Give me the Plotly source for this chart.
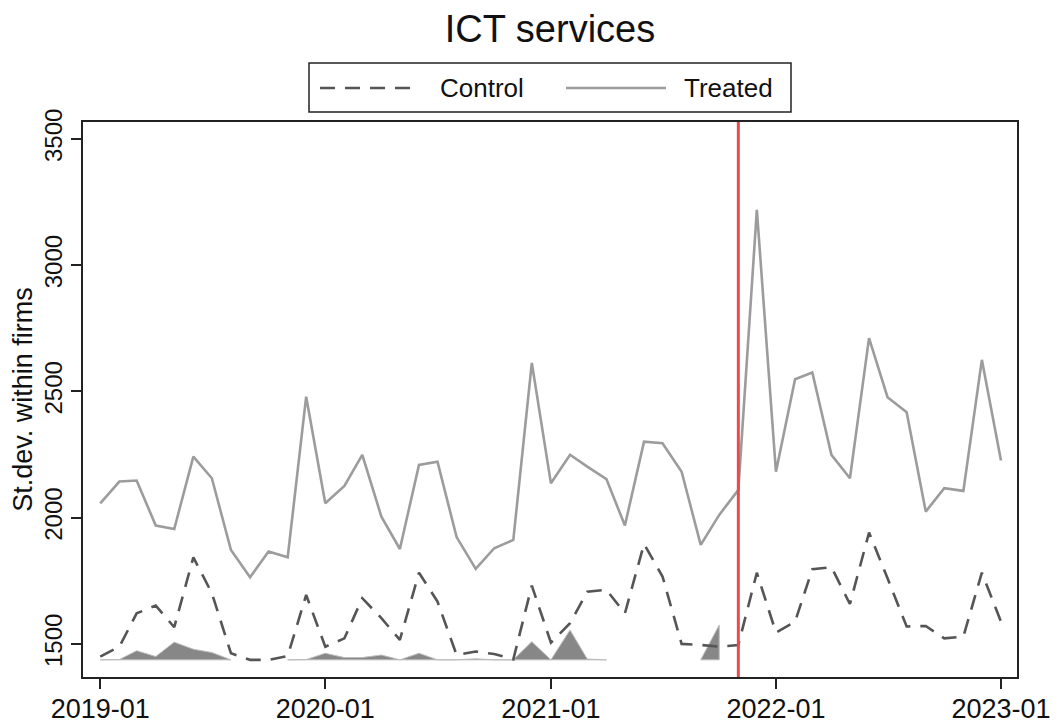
import plotly.graph_objects as go

months = [f"{2019 + k // 12}-{k % 12 + 1:02d}-01" for k in range(49)]

treated = [2057, 2143, 2147, 1969, 1955, 2242, 2156, 1872, 1764, 1866, 1843, 2479,
           2057, 2126, 2249, 2004, 1876, 2209, 2222, 1923, 1797, 1879, 1912, 2613,
           2136, 2249, 2202, 2153, 1969, 2301, 2295, 2182, 1892, 2011, 2110, 3219,
           2182, 2548, 2575, 2249, 2156, 2711, 2477, 2418, 2024, 2117, 2106, 2625,
           2226]

control = [1450, 1489, 1621, 1652, 1566, 1843, 1701, 1463, 1437, 1437, 1452, 1694,
           1489, 1522, 1681, 1602, 1516, 1782, 1668, 1456, 1470, 1460, 1439, 1731,
           1505, 1582, 1707, 1714, 1621, 1896, 1767, 1500, 1496, 1489, 1496, 1782,
           1545, 1588, 1796, 1804, 1658, 1941, 1760, 1569, 1571, 1522, 1529, 1782,
           1588]

shade_base = 1437
shade = [1437, 1438, 1473, 1450, 1507, 1479, 1466, 1437, None, None, 1437, 1438,
         1463, 1446, 1446, 1456, 1437, 1463, 1437, 1437, 1441, 1437, 1437, 1509,
         1437, 1555, 1440, 1438, None, None, None, None, 1437, 1575, None, None,
         None, None, None, None, None, None, None, None, None, None, None, None,
         None]

event_month = "2021-11-01"
y_ticks = [1500, 2000, 2500, 3000, 3500]
x_ticks = ["2019-01-01", "2020-01-01", "2021-01-01", "2022-01-01", "2023-01-01"]
x_ticktext = ["2019-01", "2020-01", "2021-01", "2022-01", "2023-01"]

FONT = "Arial, Liberation Sans, Helvetica, sans-serif"
CTRL_COLOR, TREAT_COLOR = "#555555", "#9c9c9c"
LW = 2.6
DASH = "15px,10px"

fig = go.Figure()

# shaded areas: one closed polygon per contiguous run of values
runs, cur = [], []
for m, v in zip(months, shade):
    if v is None:
        if cur:
            runs.append(cur)
        cur = []
    else:
        cur.append((m, v))
if cur:
    runs.append(cur)

for run in runs:
    xs = [m for m, _ in run] + [m for m, _ in reversed(run)]
    ys = [v for _, v in run] + [shade_base] * len(run)
    fig.add_trace(go.Scatter(x=xs, y=ys, mode="lines", fill="toself",
                             fillcolor="#878787", line=dict(color="#bdbdbd", width=1),
                             showlegend=False, hoverinfo="skip"))

fig.add_trace(go.Scatter(x=months, y=control, mode="lines", name="Control",
                         line=dict(color=CTRL_COLOR, width=LW, dash=DASH),
                         showlegend=False))
fig.add_trace(go.Scatter(x=months, y=treated, mode="lines", name="Treated",
                         line=dict(color=TREAT_COLOR, width=LW),
                         showlegend=False))

# page offset of the figure (browser body margin)
OFF = 8
FW, FH = 1062 - OFF, 726 - OFF
# plot area in page pixels: x 83..1017, y 122..677
L, R, T, B = 83 - OFF, 1017 - OFF, 122 - OFF, 677 - OFF
W, H = R - L, B - T
px = lambda p: (p - OFF - L) / W
py = lambda p: (B - (p - OFF)) / H

shapes = [
    dict(type="line", xref="x", yref="paper", x0=event_month, x1=event_month,
         y0=0, y1=1, line=dict(color="#ec4a4a", width=3)),
    dict(type="rect", xref="paper", yref="paper", x0=px(309), x1=px(791),
         y0=py(112), y1=py(63), line=dict(color="#222222", width=1.5),
         fillcolor="white"),
    dict(type="line", xref="paper", yref="paper", x0=px(320), x1=px(420),
         y0=py(88), y1=py(88), line=dict(color=CTRL_COLOR, width=LW, dash=DASH)),
    dict(type="line", xref="paper", yref="paper", x0=px(566), x1=px(666),
         y0=py(88), y1=py(88), line=dict(color=TREAT_COLOR, width=LW)),
]

annotations = [
    dict(xref="paper", yref="paper", x=px(438), y=py(88), text="Control",
         showarrow=False, xanchor="left", yanchor="middle",
         font=dict(family=FONT, size=26, color="#111111")),
    dict(xref="paper", yref="paper", x=px(682), y=py(88), text="Treated",
         showarrow=False, xanchor="left", yanchor="middle",
         font=dict(family=FONT, size=26, color="#111111")),
]

fig.update_layout(
    width=FW, height=FH,
    margin=dict(l=L, r=FW - R, t=T, b=FH - B, autoexpand=False),
    paper_bgcolor="white", plot_bgcolor="white",
    title=dict(text="ICT services", x=(0.5 * (83 + 1017) - OFF) / FW, xanchor="center",
               y=1 - (29 - OFF) / FH, yanchor="middle",
               font=dict(family=FONT, size=38, color="#111111")),
    font=dict(family=FONT, color="#111111"),
    shapes=shapes, annotations=annotations,
    showlegend=False,
)

fig.update_xaxes(
    type="date", range=["2018-12-04", "2023-01-27"],
    tickvals=x_ticks, ticktext=x_ticktext,
    ticks="outside", ticklen=10, tickwidth=1.8, tickcolor="#222222",
    ticklabelstandoff=-3,
    showline=True, linecolor="#222222", linewidth=1.8, mirror=True,
    showgrid=False, zeroline=False,
    tickfont=dict(family=FONT, size=27, color="#111111"),
)
fig.update_yaxes(
    range=[1369, 3567], tickvals=y_ticks,
    ticks="outside", ticklen=10, tickwidth=1.8, tickcolor="#222222",
    tickangle=-90,
    showline=True, linecolor="#222222", linewidth=1.8, mirror=True,
    showgrid=False, zeroline=False,
    tickfont=dict(family=FONT, size=24, color="#111111"),
    title=dict(text="St.dev. within firms", standoff=4,
               font=dict(family=FONT, size=27, color="#111111")),
)

fig.write_html("out.html")
